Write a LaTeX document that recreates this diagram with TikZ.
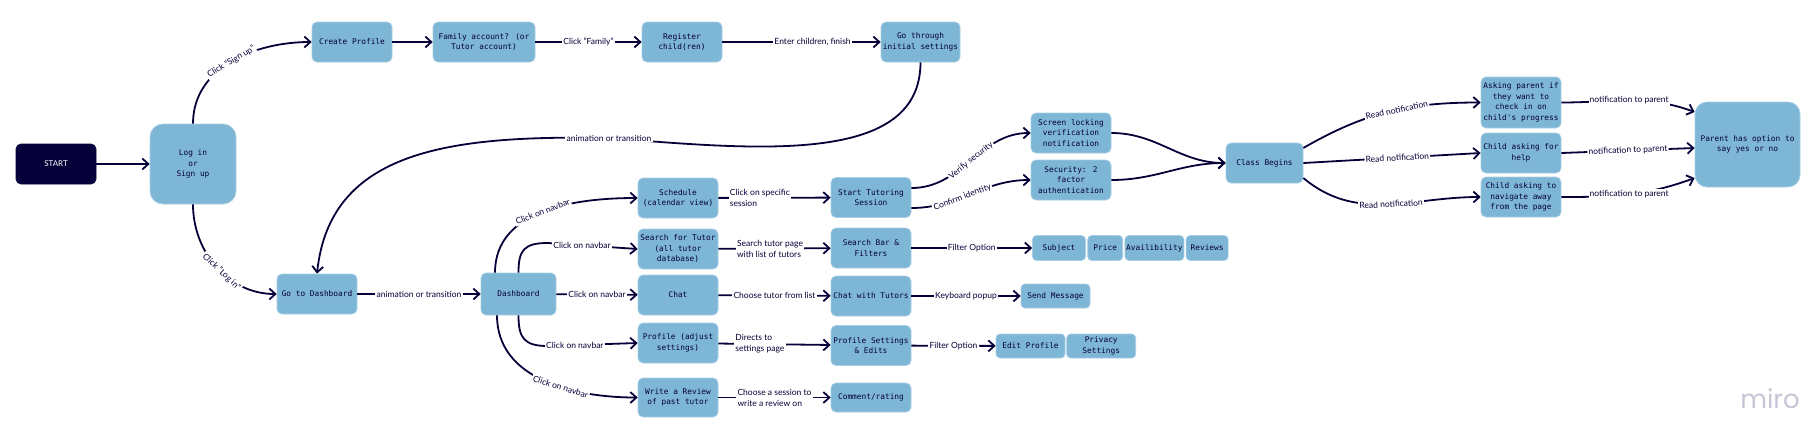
\documentclass[tikz,border=0pt]{standalone}
\usepackage{fontspec}
\setmainfont{Lato}
\newfontfamily\monofont{DejaVu Sans Mono}
\newfontfamily\logofont{Poppins}
\usetikzlibrary{arrows.meta,positioning}
\definecolor{mnavy}{HTML}{050038}
\definecolor{mblue}{HTML}{7EB6D6}
\definecolor{mline}{HTML}{A7CFE6}
\definecolor{mgrey}{HTML}{C6C6D6}

\begin{document}
\begin{tikzpicture}[x=1pt,y=1pt,box/.style={draw=mline,line width=.7pt,fill=mblue,rounded corners=5pt,text=mnavy,font=\monofont\fontsize{7.8}{10.5}\selectfont,align=center,inner sep=1pt,minimum width=80pt,minimum height=40pt},chip/.style={box,minimum height=25pt,rounded corners=4pt},lbl/.style={font=\fontsize{8.5}{11}\selectfont,text=mnavy,fill=white,inner sep=1.2pt,align=left},arr/.style={-{Straight Barb[length=6pt,width=11pt]},draw=mnavy,line width=1.8pt}]
\useasboundingbox (0,0) rectangle (1813,-440);
\node[box,fill=mnavy,draw=mnavy,text=white,font=\fontsize{8}{9}\selectfont] (start) at (56,-164) {START};
\node[box,minimum width=86pt,minimum height=80pt,rounded corners=13pt] (login) at (193,-164) {Log in\\or\\Sign up};
\node[box] (create) at (352,-42) {Create Profile};
\node[box,minimum width=102pt] (family) at (484,-42) {Family account? (or\\Tutor account)};
\node[box] (register) at (682,-42) {Register\\child(ren)};
\node[box,minimum width=79pt] (setup) at (920.5,-42) {Go through\\initial settings};
\node[box] (godash) at (317,-294) {Go to Dashboard};
\node[box,minimum width=75pt,minimum height=42pt] (dash) at (518.5,-294) {Dashboard};
\node[box] (sched) at (678,-198) {Schedule\\(calendar view)};
\node[box] (search) at (678,-249) {Search for Tutor\\(all tutor\\database)};
\node[box] (chat) at (678,-295) {Chat};
\node[box] (prof) at (678,-343) {Profile (adjust\\settings)};
\node[box,minimum height=39pt] (review) at (678,-397.5) {Write a Review\\of past tutor};
\node[box] (tutor) at (871,-197.5) {Start Tutoring\\Session};
\node[box] (sbar) at (871,-248) {Search Bar \&\\Filters};
\node[box] (chatt) at (871,-296) {Chat with Tutors};
\node[box] (profset) at (871,-345.5) {Profile Settings\\\& Edits};
\node[box,minimum height=29pt] (comment) at (871,-397.5) {Comment/rating};
\node[box] (lock) at (1071,-133) {Screen locking\\verification\\notification};
\node[box] (twofa) at (1071,-180) {Security: 2\\factor\\authentication};
\node[box,minimum width=77pt] (classb) at (1264.5,-163) {Class Begins};
\node[chip,minimum width=53pt] (subject) at (1059,-248) {Subject};
\node[chip,minimum width=35pt,right=1.5pt of subject] (price) {Price};
\node[chip,minimum width=59pt,right=1.5pt of price] (avail) {Availibility};
\node[chip,minimum width=42pt,right=1.5pt of avail] (reviews) {Reviews};
\node[chip,minimum width=69pt,minimum height=24pt] (send) at (1055.5,-296) {Send Message};
\node[chip,minimum width=69pt,minimum height=24pt] (editp) at (1030.5,-346) {Edit Profile};
\node[chip,minimum width=69pt,minimum height=24pt,right=1pt of editp] (privacy) {Privacy\\Settings};
\node[box,minimum height=51pt] (askp) at (1521,-102.5) {Asking parent if\\they want to\\check in on\\child's progress};
\node[box] (help) at (1521,-153) {Child asking for\\help};
\node[box] (nav) at (1521,-197) {Child asking to\\navigate away\\from the page};
\node[box,minimum width=105pt,minimum height=85pt,rounded corners=12pt] (parent) at (1747.5,-144.5) {Parent has option to\\say yes or no};
\node[font=\logofont\fontsize{26}{26}\selectfont,text=mgrey] (miro) at (1770,-399) {miro};
\draw[arr] (start)--(login);
\draw[arr] (login.north) to[out=90,in=180] node[lbl,sloped,pos=.5]{Click "Sign up"} (create.west);
\draw[arr] (create)--(family);
\draw[arr] (family)--node[lbl]{Click "Family"}(register);
\draw[arr] (register)--node[lbl,pos=.57]{Enter children, finish}(setup);
\draw[arr] (setup.south) .. controls (920.5,-165) and (760,-150) .. (609,-138) node[lbl]{animation or transition} .. controls (450,-135) and (330,-150) .. (godash.north);
\draw[arr] (login.south) to[out=-90,in=180] node[lbl,sloped,pos=.55]{Click "Log in"} (godash.west);
\draw[arr] (godash)--node[lbl]{animation or transition}(dash);
\draw[arr] ([xshift=-23.5pt]dash.north) to[out=90,in=180] node[lbl,sloped,pos=.5]{Click on navbar} (sched.west);
\draw[arr] (dash.north) .. controls (518.5,-250) and (524,-243) .. (548,-243) -- node[lbl,pos=.38]{Click on navbar} (search.west);
\draw[arr] (dash)--node[lbl]{Click on navbar}(chat);
\draw[arr] (dash.south) .. controls (518.5,-338) and (524,-346) .. (548,-346) -- node[lbl,pos=.3]{Click on navbar} (prof.west);
\draw[arr] ([xshift=-21.5pt]dash.south) to[out=-90,in=180] node[lbl,sloped,pos=.6]{Click on navbar} (review.west);
\draw[arr] (sched)--node[lbl,pos=.37]{Click on specific\\session}(tutor);
\draw[arr] (search)--node[lbl,pos=.46]{Search tutor page\\with list of tutors}(sbar);
\draw[arr] (chat)--node[lbl]{Choose tutor from list}(chatt);
\draw[arr] (prof)--node[lbl,pos=.37]{Directs to\\settings page}(profset);
\draw[arr] (review)--node[lbl]{Choose a session to\\write a review on}(comment);
\draw[arr] ([yshift=9.5pt]tutor.east) to[out=0,in=180] node[lbl,sloped]{Verify security} (lock.west);
\draw[arr] ([yshift=-10.5pt]tutor.east) to[out=0,in=180] node[lbl,sloped,pos=.42]{Confirm identity} (twofa.west);
\draw[arr] (lock.east) to[out=0,in=180] (classb.west);
\draw[arr] (twofa.east) to[out=0,in=180] (classb.west);
\draw[arr] (sbar)--node[lbl]{Filter Option}(subject);
\draw[arr] (chatt)--node[lbl]{Keyboard popup}(send);
\draw[arr] (profset)--node[lbl]{Filter Option}(editp);
\draw[arr] ([yshift=15pt]classb.east) to[out=30,in=180] node[lbl,sloped,pos=.55]{Read notification} (askp.west);
\draw[arr] (classb.east) -- node[lbl,sloped,pos=.53]{Read notification} (help.west);
\draw[arr] ([yshift=-15pt]classb.east) to[out=-40,in=180] node[lbl,sloped,pos=.53]{Read notification} (nav.west);
\draw[arr] (askp.east) to[out=0,in=160] node[lbl]{notification to parent} ([yshift=32.5pt]parent.west);
\draw[arr] (help.east) -- node[lbl,sloped]{notification to parent} ([yshift=-3.5pt]parent.west);
\draw[arr] (nav.east) to[out=0,in=200] node[lbl]{notification to parent} ([yshift=-33.5pt]parent.west);
\end{tikzpicture}
\end{document}
